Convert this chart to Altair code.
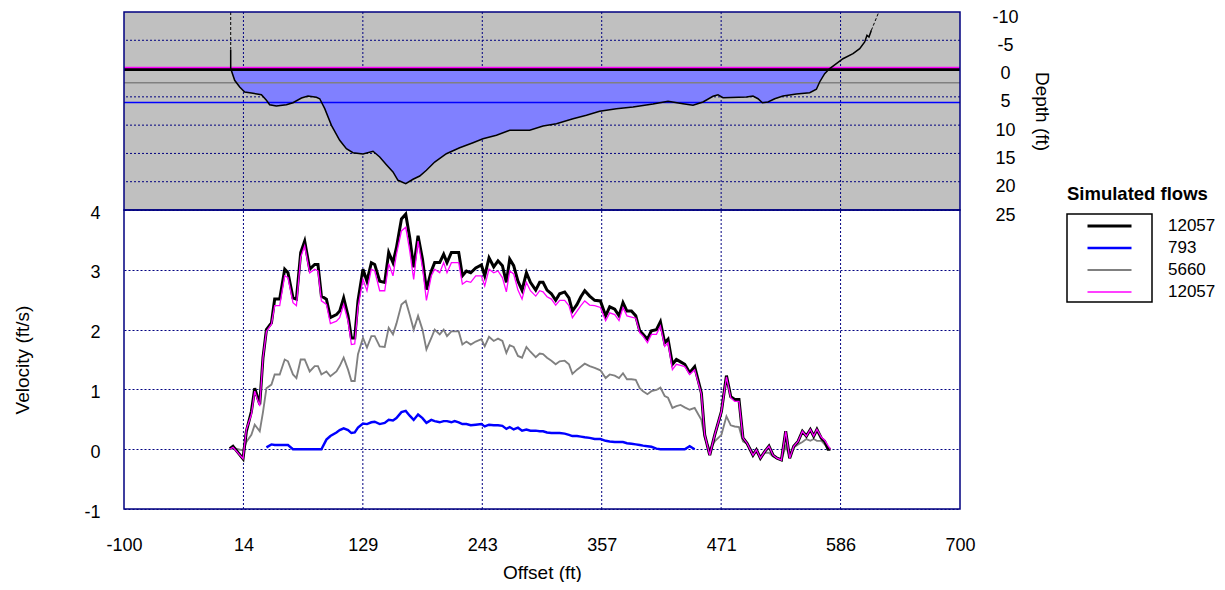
import altair as alt
import pandas as pd

# ---------------- data ----------------
stations = [1.2, 4.3, 13.9, 17.1, 21.9, 25.1, 29.9, 33.0, 36.3, 41.1, 44.2, 49.0, 53.8, 56.9, 61.7, 65.0,
            69.1, 72.9, 77.7, 82.5, 85.6, 88.9, 93.7, 97.5, 103.3, 106.4, 110.2, 114.4, 117.6, 120.8, 123.9,
            128.7, 132.5, 136.7, 139.9, 144.7, 149.5, 153.3, 157.4, 160.7, 165.5, 169.6, 173.4, 177.2, 181.4,
            185.6, 189.4, 194.1, 197.3, 202.1, 205.9, 209.1, 213.3, 216.4, 220.3, 223.8, 227.7, 231.8, 236.6,
            242.0, 245.2, 249.3, 253.8, 257.9, 262.1, 265.9, 269.1, 272.9, 277.0, 280.9, 285.1, 288.9, 294.0,
            297.8, 301.0, 304.8, 309.0, 313.1, 316.9, 321.7, 325.8, 329.1, 333.5, 337.2, 340.9, 345.6, 350.4,
            355.9, 360.9, 364.8, 369.6, 373.7, 377.5, 381.3, 385.6, 389.7, 393.5, 396.7, 400.9, 404.7, 409.5,
            413.3, 417.4, 420.6, 424.8, 428.6, 432.6, 436.6, 441.3, 446.1, 452.5, 455.7, 460.5, 465.3, 471.7,
            476.5, 480.6, 484.4, 488.5, 492.3, 496.2, 501.9, 505.2, 509.0, 513.1, 517.2, 521.1, 524.9, 529.1,
            533.2, 537.0, 540.9, 545.0, 549.2, 553.0, 556.8, 560.0, 563.1, 567.4, 570.5, 573.7, 576.0]

vel_12057 = [0.01, 0.05, -0.16, 0.30, 0.63, 1.02, 0.75, 1.53, 2.00, 2.11, 2.51, 2.51, 3.01, 2.95, 2.53, 2.51,
             3.29, 3.48, 3.01, 3.09, 3.09, 2.56, 2.51, 2.20, 2.25, 2.31, 2.53, 2.23, 1.86, 1.86, 2.48,
             3.01, 2.81, 3.12, 3.09, 2.81, 2.79, 3.29, 3.12, 3.37, 3.85, 3.93, 3.54, 3.04, 3.57,
             3.18, 2.67, 2.98, 3.12, 3.12, 3.26, 3.12, 3.29, 3.29, 3.29, 2.90, 2.98, 2.95, 3.03,
             3.08, 2.90, 3.20, 3.05, 3.15, 3.07, 2.79, 3.18, 3.07, 2.81, 2.66, 2.95, 2.79, 2.66,
             2.79, 2.79, 2.66, 2.60, 2.49, 2.60, 2.63, 2.53, 2.31, 2.42, 2.55, 2.65, 2.56, 2.49,
             2.48, 2.23, 2.38, 2.34, 2.23, 2.45, 2.31, 2.31, 2.23, 1.98, 1.92, 1.84, 1.98, 2.00,
             2.13, 1.78, 1.84, 1.42, 1.50, 1.46, 1.42, 1.28, 1.38, 0.94, 0.24, -0.10, 0.24, 0.63,
             1.23, 0.88, 0.83, 0.83, 0.19, 0.10, -0.10, -0.01, -0.15, -0.04, 0.05, -0.10, -0.15, -0.18,
             0.30, -0.15, 0.05, 0.13, 0.30, 0.22, 0.33, 0.22, 0.33, 0.18, 0.13, 0.00, 0.00]

vel_793 = [None, None, None, None, None, None, None, None, 0.03, 0.08, 0.07, 0.07, 0.07, 0.07, 0.00, 0.00,
           0.00, 0.00, 0.00, 0.00, 0.00, 0.00, 0.16, 0.22, 0.28, 0.32, 0.35, 0.32, 0.27, 0.28, 0.36,
           0.43, 0.42, 0.45, 0.46, 0.42, 0.44, 0.49, 0.48, 0.52, 0.62, 0.64, 0.56, 0.49, 0.58,
           0.52, 0.44, 0.49, 0.47, 0.45, 0.47, 0.47, 0.45, 0.47, 0.45, 0.42, 0.42, 0.40, 0.41,
           0.42, 0.38, 0.41, 0.40, 0.40, 0.39, 0.34, 0.37, 0.33, 0.36, 0.31, 0.33, 0.31, 0.31,
           0.30, 0.30, 0.28, 0.27, 0.27, 0.27, 0.26, 0.24, 0.22, 0.22, 0.21, 0.20, 0.19, 0.17,
           0.17, 0.14, 0.13, 0.12, 0.12, 0.12, 0.10, 0.09, 0.08, 0.07, 0.06, 0.05, 0.04, 0.01,
           0.00, 0.00, 0.00, 0.00, 0.00, 0.00, 0.00, 0.05, 0.00, None, None, None, None, None,
           None, None, None, None, None, None, None, None, None, None, None, None, None, None,
           None, None, None, None, None, None, None, None, None, None, None, None, None]

vel_5660 = [0.00, 0.02, -0.02, 0.12, 0.24, 0.41, 0.30, 0.62, 1.02, 1.08, 1.25, 1.25, 1.50, 1.47, 1.25, 1.19,
            1.50, 1.50, 1.30, 1.39, 1.39, 1.25, 1.30, 1.22, 1.30, 1.39, 1.53, 1.33, 1.14, 1.14, 1.59,
            1.86, 1.70, 1.89, 1.89, 1.72, 1.71, 2.03, 1.92, 2.10, 2.42, 2.48, 2.25, 2.00, 2.23,
            2.00, 1.67, 1.86, 2.00, 1.92, 2.00, 1.89, 1.97, 1.97, 1.97, 1.75, 1.80, 1.75, 1.80,
            1.84, 1.72, 1.88, 1.81, 1.85, 1.81, 1.61, 1.74, 1.71, 1.56, 1.53, 1.71, 1.63, 1.54,
            1.60, 1.59, 1.53, 1.48, 1.42, 1.47, 1.48, 1.42, 1.26, 1.33, 1.38, 1.43, 1.39, 1.36,
            1.32, 1.19, 1.25, 1.23, 1.19, 1.27, 1.17, 1.17, 1.16, 1.02, 0.97, 0.92, 0.97, 0.99,
            1.03, 0.89, 0.86, 0.69, 0.72, 0.74, 0.70, 0.66, 0.69, 0.49, 0.19, -0.01, 0.13, 0.24,
            0.55, 0.40, 0.38, 0.37, 0.13, 0.09, -0.06, -0.05, -0.12, -0.06, -0.06, -0.12, -0.15, -0.18,
            0.05, -0.12, 0.03, 0.08, 0.12, 0.17, 0.14, 0.17, 0.14, 0.14, 0.08, 0.03, 0.00]

vel_12057_b = [0.00, 0.03, -0.16, 0.33, 0.58, 0.97, 0.72, 1.53, 1.97, 2.09, 2.40, 2.40, 2.90, 2.87, 2.45, 2.40,
               3.21, 3.40, 2.95, 3.01, 2.98, 2.48, 2.42, 2.10, 2.14, 2.20, 2.42, 2.14, 1.75, 1.76, 2.37,
               2.84, 2.65, 3.01, 2.98, 2.65, 2.65, 3.10, 2.90, 3.26, 3.65, 3.71, 3.32, 2.84, 3.48,
               3.04, 2.49, 2.90, 3.01, 2.95, 3.12, 2.95, 3.12, 3.12, 3.12, 2.76, 2.81, 2.79, 2.90,
               2.90, 2.73, 3.01, 2.95, 2.98, 2.87, 2.63, 2.98, 2.93, 2.66, 2.51, 2.79, 2.65, 2.56,
               2.65, 2.63, 2.55, 2.51, 2.41, 2.49, 2.49, 2.40, 2.20, 2.31, 2.40, 2.48, 2.41, 2.40,
               2.37, 2.15, 2.28, 2.25, 2.15, 2.37, 2.23, 2.21, 2.19, 1.95, 1.89, 1.78, 1.92, 1.92,
               2.06, 1.72, 1.78, 1.33, 1.42, 1.40, 1.38, 1.25, 1.33, 0.92, 0.24, -0.10, 0.24, 0.63,
               1.21, 0.86, 0.80, 0.80, 0.19, 0.10, -0.10, -0.01, -0.15, -0.04, 0.05, -0.10, -0.15, -0.18,
               0.30, -0.15, 0.05, 0.13, 0.30, 0.22, 0.33, 0.22, 0.33, 0.20, 0.15, 0.06, 0.00]

series_names = ["12057", "793", "5660", "12057 "]
series_values = [vel_12057, vel_793, vel_5660, vel_12057_b]

# channel cross-section (bed depth below the 12057 water surface)
bed_offset = [2.1, 2.1, 5.9, 10.7, 15.5, 21.9, 31.5, 36.3, 39.4, 45.8, 55.4, 61.7, 69.8, 76.1, 84.1,
              87.3, 92.1, 98.5, 106.4, 112.8, 119.1, 128.7, 138.3, 144.7, 151.1, 157.4, 162.2, 169.6, 176.6,
              183.0, 189.4, 197.3, 208.5, 221.2, 234.0, 243.5, 256.4, 269.1, 288.2, 301.0, 313.8, 329.7,
              342.5, 355.2, 371.2, 387.1, 406.2, 420.6, 434.9, 444.5, 454.1, 463.6, 468.4, 473.2, 495.6,
              501.9, 506.7, 510.9, 516.3, 522.7, 530.6, 543.4, 556.2, 562.6, 565.7, 570.5, 575.3, 581.7,
              588.0, 597.6, 604.0, 608.8, 611.0, 612.9, 615.2]
bed_depth = [-3.34, 0.0, 2.07, 3.26, 4.14, 4.32, 4.62, 5.61, 6.39, 6.62, 6.39, 6.03, 5.2, 4.85, 5.08,
             5.33, 7.09, 10.03, 12.68, 14.17, 14.87, 15.1, 14.62, 15.63, 16.99, 18.28, 19.75, 20.35, 19.57,
             18.99, 17.98, 16.52, 15.05, 13.99, 13.1, 12.4, 11.8, 10.91, 10.91, 10.15, 9.75, 8.86,
             8.26, 7.55, 7.09, 6.79, 6.26, 5.79, 6.21, 6.49, 5.91, 4.9, 4.62, 5.15, 5.03,
             4.85, 5.33, 6.03, 5.91, 5.33, 4.85, 4.5, 4.27, 3.66, 2.37, 0.91, 0.0, -0.86,
             -1.74, -2.63, -3.51, -4.7, -5.88, -5.58, -6.77]
bank_left_offset = [2.1, 2.1]
bank_left_depth = [-10.0, -3.34]
bank_right_offset = [615.2, 622.3]
bank_right_depth = [-6.77, -10.0]

# water-surface depth for each flow (same order as series_names)
wse_depth = [0.0, 6.0, 2.5, 0.0]

x_domain = [-100, 700]
x_ticks = [-100, 14.2857, 128.5714, 242.8571, 357.1429, 471.4286, 585.7143, 700]
vel_domain = [-1, 4]
vel_ticks = [-1, 0, 1, 2, 3, 4]
depth_domain = [-10, 25]
depth_ticks = [-10, -5, 0, 5, 10, 15, 20, 25]

# ---------------- styling ----------------
W, H, TOP_H = 836, 497, 198
NAVY = "#000080"
FONT = "Liberation Sans"
LBL = 18
TTL = 19
series_colors = ["#000000", "#0000FF", "#808080", "#FF00FF"]
series_widths = [3.0, 1.3, 1.3, 1.3]
HYPHEN_LABEL = "'' + round(datum.value)"

x_scale = alt.Scale(domain=x_domain, nice=False, zero=False)
x_axis = alt.Axis(values=x_ticks, labelExpr=HYPHEN_LABEL, title="Offset (ft)", grid=False, domain=False,
                  ticks=False, labelFlush=False, labelOverlap=False, labelPadding=27, titlePadding=9)
d_scale = alt.Scale(domain=depth_domain, range=[0, TOP_H], nice=False, zero=False)
d_axis = alt.Axis(orient="right", values=depth_ticks, labelExpr=HYPHEN_LABEL, title="Depth (ft)", grid=False,
                  domain=False, ticks=False, labelFlush=False, labelOverlap=False, labelAlign="center",
                  labelPadding=45, labelOffset=5, titlePadding=13)
v_scale = alt.Scale(domain=vel_domain, range=[H, TOP_H], nice=False, zero=False)
v_axis = alt.Axis(orient="left", values=vel_ticks, labelExpr=HYPHEN_LABEL, title="Velocity (ft/s)", grid=True,
                  gridColor=NAVY, gridDash=[2, 2], gridWidth=1, gridOpacity=1, domain=False, ticks=False,
                  labelFlush=False, labelOverlap=False, labelPadding=24, labelOffset=3, titlePadding=51)


def X(f):
    return alt.X(f, type="quantitative", scale=x_scale, axis=x_axis)


def DY(f):
    return alt.Y(f, type="quantitative", scale=d_scale, axis=d_axis)


def VY(f):
    return alt.Y(f, type="quantitative", scale=v_scale, axis=v_axis)


grid_mark = dict(color=NAVY, strokeDash=[2, 2], strokeWidth=1)

# ---------------- top panel (cross-section) ----------------
bg_df = pd.DataFrame({"x0": [x_domain[0]], "x1": [x_domain[1]], "d0": [depth_domain[0]], "d1": [depth_domain[1]]})
bg = alt.Chart(bg_df).mark_rect(fill="#C0C0C0").encode(x=X("x0"), x2="x1", y=DY("d0"), y2="d1")

hgrid_df = pd.DataFrame({"depth": depth_ticks[1:-1]})
hgrid = alt.Chart(hgrid_df).mark_rule(**grid_mark).encode(y=DY("depth"))

vgrid_df = pd.DataFrame({"offset": x_ticks[1:-1], "d0": depth_domain[0], "d1": depth_domain[1]})
vgrid = alt.Chart(vgrid_df).mark_rule(**grid_mark).encode(x=X("offset"), y=DY("d0"), y2="d1")

bed_df = pd.DataFrame({"i": range(len(bed_offset)), "offset": bed_offset, "depth": bed_depth})
wet_df = bed_df.iloc[1:67].copy()
wet_df["surface"] = wse_depth[0]
fill = alt.Chart(wet_df).mark_area(color="#8080FF", opacity=1).encode(
    x=X("offset"), y=DY("depth"), y2="surface")


def wse_rule(k, width, y_off):
    df = pd.DataFrame({"depth": [wse_depth[k]]})
    return alt.Chart(df).mark_rule(color=series_colors[k], strokeWidth=width, yOffset=y_off).encode(
        y=DY("depth"))


wse_layers = [wse_rule(2, 1.5, 0), wse_rule(1, 1.5, 0), wse_rule(0, 3, 1), wse_rule(3, 1.5, -1)]

bed = alt.Chart(bed_df).mark_line(color="black", strokeWidth=1.5).encode(
    x=X("offset"), y=DY("depth"), order="i:Q")

bank_df = pd.DataFrame({
    "seg": ["l", "l", "r", "r"], "i": [0, 1, 0, 1],
    "offset": bank_left_offset + bank_right_offset,
    "depth": bank_left_depth + bank_right_depth})
banks = alt.Chart(bank_df).mark_line(color="black", strokeWidth=1, strokeDash=[3, 2]).encode(
    x=X("offset"), y=DY("depth"), detail="seg:N", order="i:Q")

frame_top = alt.Chart(bg_df).mark_rect(fill="transparent", stroke=NAVY, strokeWidth=1.5).encode(
    x=X("x0"), x2="x1", y=DY("d0"), y2="d1")

top = alt.layer(bg, hgrid, vgrid, fill, *wse_layers, bed, banks, frame_top)

# ---------------- bottom panel (velocities) ----------------
color_scale = alt.Scale(domain=series_names, range=series_colors)
width_scale = alt.Scale(domain=series_names, range=series_widths)
legend = alt.Legend(title="Simulated flows", orient="none", legendX=943, legendY=173,
                    symbolType="M-4,0H4", symbolSize=121, symbolOffset=34, labelOffset=50,
                    rowPadding=4, padding=0, titlePadding=14, titleFontSize=18.5, titleFontWeight="bold",
                    labelFontSize=17, titleColor="black", labelColor="black")


def vel_line(k):
    df = pd.DataFrame({"offset": stations, "velocity": series_values[k]}).dropna()
    df["series"] = series_names[k]
    return alt.Chart(df).mark_line(strokeJoin="miter").encode(
        x=X("offset"), y=VY("velocity"),
        color=alt.Color("series:N", scale=color_scale, legend=legend),
        strokeWidth=alt.StrokeWidth("series:N", scale=width_scale, legend=legend))


frame_df = pd.DataFrame({"x0": [x_domain[0]], "x1": [x_domain[1]], "v0": [vel_domain[0]], "v1": [vel_domain[1]]})
vgrid_bot_df = pd.DataFrame({"offset": x_ticks[1:-1], "v0": vel_domain[0], "v1": vel_domain[1]})
vgrid_bot = alt.Chart(vgrid_bot_df).mark_rule(**grid_mark).encode(x=X("offset"), y=VY("v0"), y2="v1")
frame_bot = alt.Chart(frame_df).mark_rect(fill="transparent", stroke=NAVY, strokeWidth=1.5).encode(
    x=X("x0"), x2="x1", y=VY("v0"), y2="v1")

legend_box = alt.Chart(pd.DataFrame({"a": [0]})).mark_rect(fill="transparent", stroke="black", strokeWidth=1.5).encode(
    x=alt.value(943), x2=alt.value(1028), y=alt.value(202), y2=alt.value(290))

bottom = alt.layer(vgrid_bot, vel_line(2), vel_line(1), vel_line(0), vel_line(3), frame_bot, legend_box)

chart = alt.layer(top, bottom).resolve_scale(y="independent").properties(
    width=W, height=H, padding={"left": 5, "top": 0, "right": 0, "bottom": 0}
).configure(font=FONT).configure_view(stroke="transparent").configure_axis(
    labelFont=FONT, titleFont=FONT, labelFontSize=LBL, titleFontSize=TTL, labelColor="black",
    titleColor="black", titleFontWeight="normal"
).configure_legend(labelFont=FONT, titleFont=FONT)

chart.save("out.html", embed_options={"renderer": "svg", "actions": False})
